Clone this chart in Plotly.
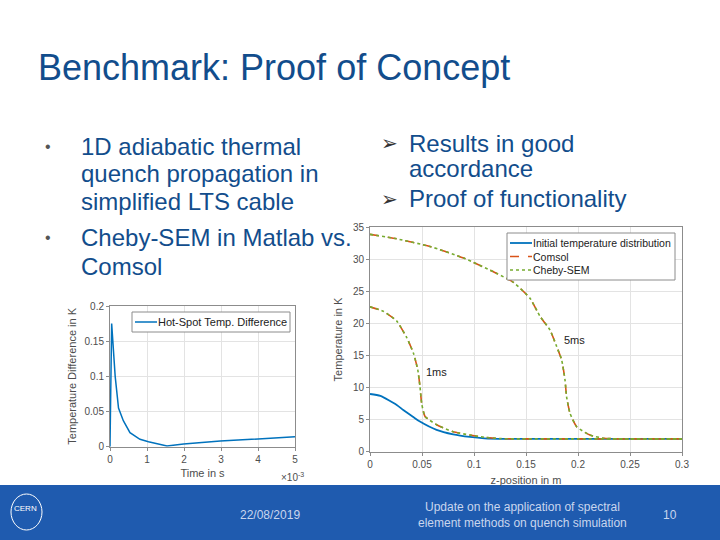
import plotly.graph_objects as go

# ---- data ----
# left chart: hot-spot temperature difference (time in units of 1e-3 s)
t_ms = [0.0, 0.045, 0.14, 0.23, 0.36, 0.54, 0.81, 1.04, 1.54, 1.99, 2.98, 3.98, 5.0]
dT = [0.0, 0.175, 0.10, 0.055, 0.037, 0.020, 0.0105, 0.007, 0.001, 0.004, 0.008, 0.011, 0.014]

# right chart: temperature distributions
z_init = [0.0, 0.01, 0.0257, 0.032, 0.0417, 0.048, 0.064, 0.08, 0.096, 0.11, 0.13, 0.2, 0.3]
T_init = [9.0, 8.7, 7.3, 6.5, 5.4, 4.7, 3.4, 2.7, 2.3, 2.08, 2.0, 2.0, 2.0]

z_1ms = [0.0, 0.0128, 0.0256, 0.0353, 0.0417, 0.0459, 0.0481, 0.0497, 0.0529, 0.0641, 0.080, 0.096, 0.11, 0.125, 0.14, 0.2, 0.3]
T_1ms = [22.6, 21.9, 20.4, 17.8, 15.4, 12.8, 10.1, 7.5, 5.5, 4.2, 3.1, 2.6, 2.25, 2.05, 2.0, 2.0, 2.0]

z_5ms = [0.0, 0.0257, 0.0578, 0.09, 0.122, 0.138, 0.154, 0.1635, 0.173, 0.1795, 0.1843, 0.1875, 0.189, 0.1923, 0.1987, 0.2115, 0.2244, 0.24, 0.3]
T_5ms = [33.9, 33.2, 32.0, 30.2, 27.8, 26.4, 23.9, 21.1, 19.0, 16.4, 14.3, 11.2, 8.6, 6.0, 3.9, 2.6, 2.1, 2.0, 2.0]

W, H = 720, 540
def px(x): return x / W
def py(y): return 1 - y / H

BLUE = "#0072BD"
ORANGE = "#D95319"
GREEN = "#77AC30"
TXT = "#124D8C"
GRID = "#E3E3E3"
TICK = "#4D4D4D"
FOOT = "#C9D6EE"

fig = go.Figure()

fig.add_trace(go.Scatter(x=t_ms, y=dT, mode="lines", name="Hot-Spot Temp. Difference",
                         line=dict(color=BLUE, width=1.5), xaxis="x", yaxis="y", showlegend=False))

fig.add_trace(go.Scatter(x=z_init, y=T_init, mode="lines", name="Initial temperature distribution",
                         line=dict(color=BLUE, width=1.8, shape="spline", smoothing=0.6),
                         xaxis="x2", yaxis="y2", showlegend=False))
for zz, TT in [(z_1ms, T_1ms), (z_5ms, T_5ms)]:
    fig.add_trace(go.Scatter(x=zz, y=TT, mode="lines", name="Comsol", showlegend=False,
                             line=dict(color=ORANGE, width=1.6, dash="dash", shape="spline", smoothing=0.5),
                             xaxis="x2", yaxis="y2"))
for zz, TT in [(z_1ms, T_1ms), (z_5ms, T_5ms)]:
    fig.add_trace(go.Scatter(x=zz, y=TT, mode="lines", name="Cheby-SEM", showlegend=False,
                             line=dict(color=GREEN, width=1.6, dash="dot", shape="spline", smoothing=0.5),
                             xaxis="x2", yaxis="y2"))

axis_common = dict(showgrid=True, gridcolor=GRID, zeroline=False, showline=True, mirror=True,
                   linecolor="#8C8C8C", linewidth=1, ticks="outside", ticklen=3, tickcolor="#8C8C8C",
                   automargin=False,
                   tickfont=dict(family="Liberation Sans", size=10, color=TICK))

fig.update_layout(
    width=W, height=H, margin=dict(l=0, r=0, t=0, b=0),
    paper_bgcolor="white", plot_bgcolor="white",
    font=dict(family="Liberation Sans", color=TICK),
    showlegend=False,
    xaxis=dict(domain=[px(110), px(295)], range=[0, 5], tickvals=[0, 1, 2, 3, 4, 5], anchor="y",
               title=dict(text="Time in s", font=dict(size=11, color=TICK), standoff=5), **axis_common),
    yaxis=dict(domain=[py(446.7), py(306)], range=[0, 0.2], tickvals=[0, 0.05, 0.1, 0.15, 0.2],
               ticktext=["0", "0.05", "0.1", "0.15", "0.2"], anchor="x",
               title=dict(text="Temperature Difference in K", font=dict(size=11, color=TICK), standoff=5), **axis_common),
    xaxis2=dict(domain=[px(370), px(682)], range=[0, 0.3], tickvals=[0, 0.05, 0.1, 0.15, 0.2, 0.25, 0.3],
                ticktext=["0", "0.05", "0.1", "0.15", "0.2", "0.25", "0.3"], anchor="y2",
                title=dict(text="z-position in m", font=dict(size=11, color=TICK), standoff=7), **axis_common),
    yaxis2=dict(domain=[py(451.7), py(227.3)], range=[0, 35], tickvals=[0, 5, 10, 15, 20, 25, 30, 35], anchor="x2",
                title=dict(text="Temperature in K", font=dict(size=11, color=TICK), standoff=8), **axis_common),
)

shapes = [
    # footer band
    dict(type="rect", xref="paper", yref="paper", x0=0, x1=1, y0=0, y1=py(485),
         fillcolor="#1F5BAF", line=dict(width=0), layer="below"),
    dict(type="circle", xref="paper", yref="paper", x0=px(11), x1=px(42), y0=py(530), y1=py(494),
         line=dict(color="white", width=1)),
    # left legend box + sample
    dict(type="rect", xref="paper", yref="paper", x0=px(132), x1=px(290), y0=py(332), y1=py(312),
         fillcolor="white", line=dict(color="#8C8C8C", width=1)),
    dict(type="line", xref="paper", yref="paper", x0=px(135), x1=px(157), y0=py(322), y1=py(322),
         line=dict(color=BLUE, width=1.5)),
    # right legend box + samples
    dict(type="rect", xref="paper", yref="paper", x0=px(507), x1=px(675), y0=py(280), y1=py(233),
         fillcolor="white", line=dict(color="#8C8C8C", width=1)),
    dict(type="line", xref="paper", yref="paper", x0=px(510), x1=px(532), y0=py(243), y1=py(243),
         line=dict(color=BLUE, width=1.8)),
    dict(type="line", xref="paper", yref="paper", x0=px(510), x1=px(532), y0=py(256.5), y1=py(256.5),
         line=dict(color=ORANGE, width=1.6, dash="dash")),
    dict(type="line", xref="paper", yref="paper", x0=px(510), x1=px(532), y0=py(270), y1=py(270),
         line=dict(color=GREEN, width=1.6, dash="dot")),
]
fig.update_layout(shapes=shapes)

ann = []
def A(text, x, y, size, color=TXT, xanchor="left", family="Liberation Sans"):
    ann.append(dict(text=text, x=px(x), y=py(y), xref="paper", yref="paper", showarrow=False,
                    xanchor=xanchor, yanchor="middle", borderpad=0,
                    font=dict(size=size, color=color, family=family)))

A("Benchmark: Proof of Concept", 37, 68, 36)
A("•", 44, 146, 16, color="#555555")
A("•", 44, 237, 16, color="#555555")
for txt, y in [("1D adiabatic thermal", 146), ("quench propagation in", 174), ("simplified LTS cable", 202),
               ("Cheby-SEM in Matlab vs.", 237), ("Comsol", 266)]:
    A(txt, 80, y, 24)
A("➢", 380, 143, 20, color="#333333", family="DejaVu Sans")
A("➢", 380, 199, 20, color="#333333", family="DejaVu Sans")
for txt, y in [("Results in good", 143), ("accordance", 169), ("Proof of functionality", 199)]:
    A(txt, 408, y, 24)

# legend texts
A("Hot-Spot Temp. Difference", 157, 322, 11, color="#222222")
A("Initial temperature distribution", 532, 243, 10.5, color="#222222")
A("Comsol", 532, 256.5, 10.5, color="#222222")
A("Cheby-SEM", 532, 270, 10.5, color="#222222")

# chart annotations
ann.append(dict(text="1ms", x=0.052, y=12.4, xref="x2", yref="y2", showarrow=False, xanchor="left",
                font=dict(size=11, color="#222")))
ann.append(dict(text="5ms", x=0.185, y=17.4, xref="x2", yref="y2", showarrow=False, xanchor="left",
                font=dict(size=11, color="#222")))
A("×10<sup>-3</sup>", 280, 477, 10, color=TICK)

# footer
A("22/08/2019", 270, 515, 12, color=FOOT, xanchor="center")
A("Update on the application of spectral<br>element methods on quench simulation", 522, 515, 12,
  color=FOOT, xanchor="center")
A("10", 670, 515, 12, color=FOOT, xanchor="center")
A("CERN", 26, 509, 8, color="white", xanchor="center")

fig.update_layout(annotations=ann)
fig.write_html("out.html")
